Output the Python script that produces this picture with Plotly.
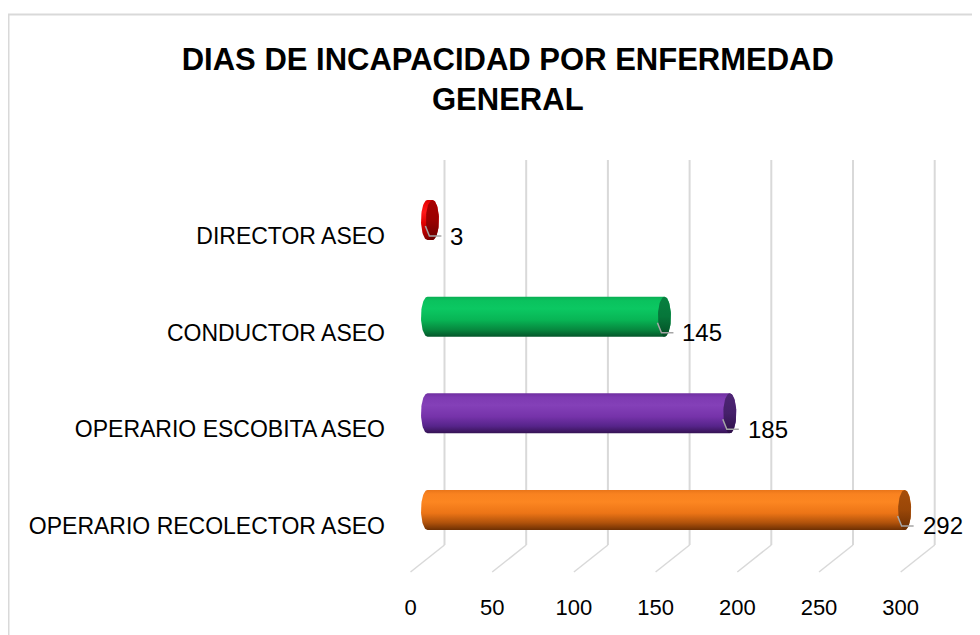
import numpy as np
import plotly.graph_objects as go

# ---- data ----
categories = ["OPERARIO RECOLECTOR ASEO", "OPERARIO ESCOBITA ASEO", "CONDUCTOR ASEO", "DIRECTOR ASEO"]
values = [292, 185, 145, 3]
x_ticks = [0, 50, 100, 150, 200, 250, 300]
title_text = "DIAS DE INCAPACIDAD POR ENFERMEDAD<br>GENERAL"

# ---- styles ----
body_scales = [
    [[0, "#6e3003"], [0.18, "#b0520b"], [0.42, "#ec7416"], [0.7, "#fc8621"], [0.9, "#f98220"], [1, "#e97519"]],
    [[0, "#351253"], [0.18, "#56248a"], [0.42, "#7633aa"], [0.7, "#8440b8"], [0.9, "#7e3ab2"], [1, "#6f2fa0"]],
    [[0, "#04562a"], [0.18, "#07893f"], [0.42, "#08b555"], [0.7, "#0bc862"], [0.9, "#0ac25e"], [1, "#09ae53"]],
    [[0, "#7a0000"], [0.18, "#b00000"], [0.42, "#e00000"], [0.7, "#ff1a1a"], [0.9, "#f00808"], [1, "#d80000"]],
]
cap_scales = [
    [[0, "#6a2e03"], [0.5, "#9a4708"], [1, "#a64e0a"]],
    [[0, "#2e1048"], [0.5, "#45206a"], [1, "#4e2574"]],
    [[0, "#044d25"], [0.5, "#06763a"], [1, "#078040"]],
    [[0, "#6a0000"], [0.5, "#9a0000"], [1, "#a80000"]],
]
FONT = "Liberation Sans, Arial, sans-serif"
W, H = 980, 635
OFF = 8              # page body margin
K = 1.634            # px per unit
ZERO_PX = 427.5 - OFF  # pixel of value 0 (bar plane)
LEFT_PX = 386 - OFF
BACK_DX = 17         # back wall offset (px)
FRONT_DX = -17       # front offset (px)
half_h = 0.207
rx = 6.5 / K

def py(p):
    return 1 - (p - OFF) / H

xr = [(LEFT_PX - ZERO_PX) / K, (W - ZERO_PX) / K]

fig = go.Figure()

t = np.linspace(0, np.pi, 40)
for i, (cat, v) in enumerate(zip(categories, values)):
    c = i
    xs = list(-rx * np.sin(t)) + list(v + rx * np.sin(t[::-1]))
    ys = list(c + half_h * np.cos(t)) + list(c + half_h * np.cos(t[::-1]))
    fig.add_trace(go.Scatter(
        x=xs + [xs[0]], y=ys + [ys[0]], mode="lines", line=dict(width=0),
        fill="toself", fillgradient=dict(type="vertical", colorscale=body_scales[i]),
        hoverinfo="skip", showlegend=False))
    tt = np.linspace(0, 2 * np.pi, 60)
    fig.add_trace(go.Scatter(
        x=list(v + rx * np.sin(tt)), y=list(c + half_h * np.cos(tt)), mode="lines", line=dict(width=0),
        fill="toself", fillgradient=dict(type="vertical", colorscale=cap_scales[i]),
        hoverinfo="skip", showlegend=False))

shapes = []
for v in x_ticks:
    shapes.append(dict(type="line", xref="x", yref="paper", xsizemode="pixel", xanchor=v,
                       x0=BACK_DX, x1=BACK_DX, y0=py(545), y1=py(160),
                       line=dict(color="#d9d9d9", width=2), layer="below"))
    shapes.append(dict(type="line", xref="x", yref="paper", xsizemode="pixel", xanchor=v,
                       x0=BACK_DX, x1=FRONT_DX, y0=py(545), y1=py(572),
                       line=dict(color="#d9d9d9", width=1.5), layer="below"))

# leader lines
for i, v in enumerate(values):
    shapes.append(dict(type="path", xref="x", yref="y", xsizemode="pixel", ysizemode="pixel",
                       xanchor=v, yanchor=i, path="M -7,-6 L -3,-16 L 9,-16",
                       line=dict(color="#a6a6a6", width=1.5)))

# chart border
shapes.append(dict(type="rect", xref="paper", yref="paper", x0=0.5 / W, x1=1.05, y0=-0.05, y1=py(14.5),
                   line=dict(color="#d9d9d9", width=2)))

annotations = []
for i, v in enumerate(values):
    annotations.append(dict(x=v, y=i, xref="x", yref="y", text=str(v), showarrow=False,
                            xanchor="left", yanchor="middle", xshift=16, yshift=-16,
                            font=dict(family=FONT, size=24, color="#000000")))

fig.update_layout(
    width=W, height=H, margin=dict(l=0, r=0, t=0, b=0),
    paper_bgcolor="white", plot_bgcolor="rgba(0,0,0,0)",
    title=dict(text=title_text, x=0.51, xanchor="center", y=py(70), yanchor="middle",
               font=dict(family=FONT, size=31, color="#000000", weight="bold")),
    xaxis=dict(domain=[LEFT_PX / W, 1], range=xr, showgrid=False, zeroline=False, showline=False,
               tickmode="array", tickvals=x_ticks, ticktext=[str(v) for v in x_ticks],
               ticks="", ticklabelshift=FRONT_DX, ticklabelstandoff=34,
               tickfont=dict(family=FONT, size=22, color="#000000"), fixedrange=True),
    yaxis=dict(domain=[py(558.3), py(171.7)], range=[-0.5, 3.5], showgrid=False, zeroline=False,
               showline=False, tickmode="array", tickvals=list(range(len(categories))), ticktext=categories,
               ticks="", ticklabelshift=16, ticklabelstandoff=0,
               tickfont=dict(family=FONT, size=23, color="#000000"), fixedrange=True),
    shapes=shapes, annotations=annotations, showlegend=False,
)

fig.write_html("out.html")
